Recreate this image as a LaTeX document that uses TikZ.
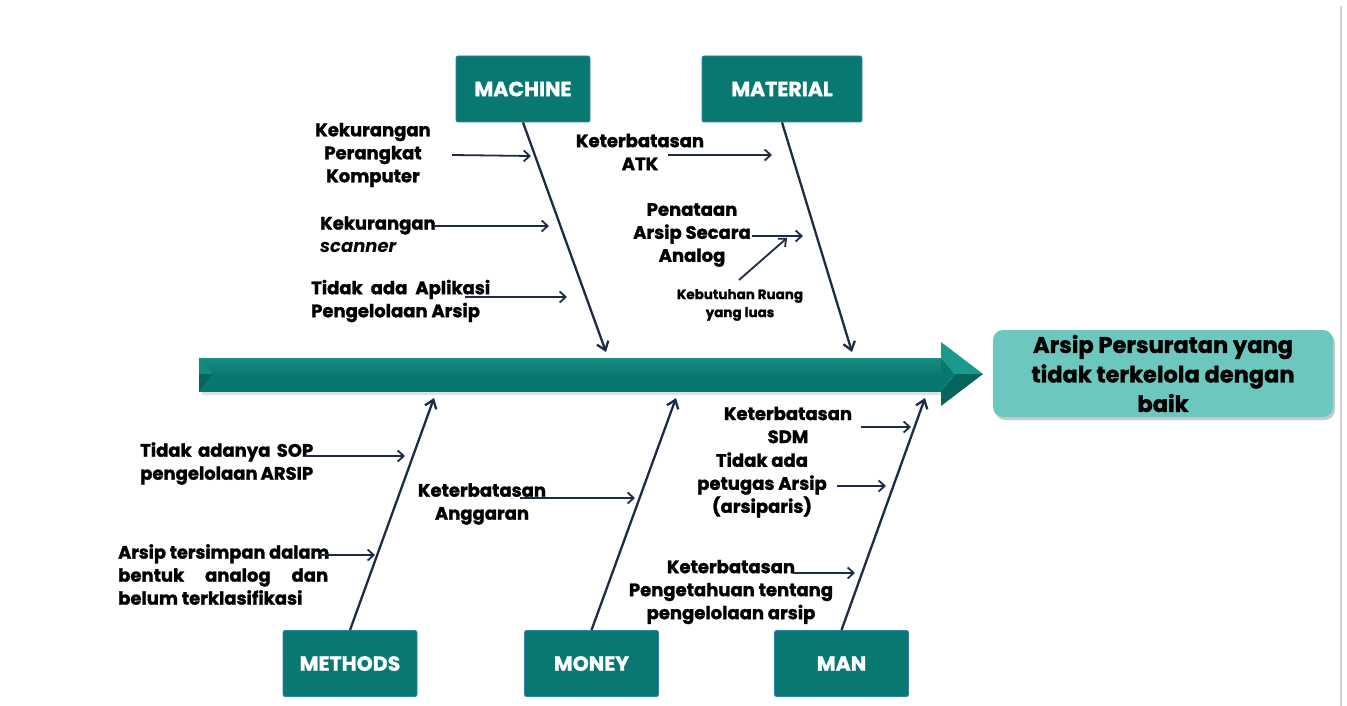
\documentclass[tikz,border=0pt]{standalone}
\usepackage{fontspec}
\setmainfont{Poppins}[BoldFeatures={FakeBold=1.4}]
\usetikzlibrary{arrows.meta,shadows}

\definecolor{boxteal}{HTML}{087870}
\definecolor{boxedge}{HTML}{2C86B0}
\definecolor{bone}{HTML}{1E2B47}
\definecolor{effectfill}{HTML}{6CC8BF}
\definecolor{spinelight}{HTML}{4CC6BA}
\definecolor{spinemid}{HTML}{14897F}
\definecolor{spinedark}{HTML}{077870}
\definecolor{facetdark}{HTML}{05665F}
\definecolor{facetlight}{HTML}{1A9A8F}

\pgfdeclareverticalshading{spinebody}{100bp}{%
  color(0bp)=(spinedark); color(48bp)=(spinedark);
  color(72bp)=(spinemid); color(100bp)=(spinelight)}

\begin{document}
\begin{tikzpicture}[x=1pt,y=-1pt,
  catbox/.style={draw=boxedge, line width=0.8pt, fill=boxteal, rounded corners=2pt,
    minimum width=134pt, minimum height=66pt, inner sep=0pt, text=white,
    font=\bfseries\fontsize{20.5}{24}\selectfont},
  cause/.style={inner sep=0pt, align=center, text=black,
    font=\bfseries\fontsize{18}{23}\selectfont},
  smallcause/.style={inner sep=0pt, align=center, text=black,
    font=\bfseries\fontsize{13.5}{18}\selectfont},
  bonearrow/.style={draw=bone, line width=2.3pt,
    -{Straight Barb[length=8pt,width=12pt,line width=2.3pt]}},
  subarrow/.style={draw=bone, line width=1.8pt,
    -{Straight Barb[length=6pt,width=11pt,line width=1.8pt]}},
  effectbox/.style={fill=effectfill, rounded corners=10pt, minimum width=340pt,
    minimum height=87pt, inner sep=0pt, align=center, text=black,
    font=\bfseries\fontsize{22.5}{29.5}\selectfont,
    drop shadow={shadow xshift=2pt, shadow yshift=-3pt, opacity=0.35, fill=black!60}}
]
\useasboundingbox (0,0) rectangle (1347,706);
\fill[white] (0,0) rectangle (1347,706);

% page edge on the right
\draw[black!18, line width=2.2pt] (1341,6) -- (1341,706);

% ---- spine arrow ----
\fill[black!12] (202,391) rectangle (942,395);
\shade[shading=spinebody] (199,358) rectangle (941,391);
% bevelled tail
\fill[spinemid] (199,358) -- (213,374) -- (199,374) -- cycle;
\fill[facetdark] (199,374) -- (213,374) -- (199,391) -- cycle;
% head
\fill[facetlight] (941,342) -- (983,374) -- (955,374) -- (941,358) -- cycle;
\fill[facetdark] (941,406) -- (983,374) -- (955,374) -- (941,391) -- cycle;
\fill[spinedark] (941,358) -- (955,374) -- (941,391) -- cycle;
\coordinate (spineTip) at (983,374);

% ---- effect ----
\node[effectbox] (effect) at (1163,373.5)
  {Arsip Persuratan yang\\tidak terkelola dengan\\baik};

% ---- categories ----
\node[catbox] (machine)  at (523,89)  {MACHINE};
\node[catbox, minimum width=160pt] (material) at (782,89) {MATERIAL};
\node[catbox] (methods)  at (350,663.5) {METHODS};
\node[catbox] (money)    at (591.5,663.5) {MONEY};
\node[catbox] (man)      at (841.5,663.5) {MAN};

% points where the bones meet the spine
\coordinate (jMachine)  at (606,352);
\coordinate (jMaterial) at (852,352);
\coordinate (jMethods)  at (434,398);
\coordinate (jMoney)    at (676,398);
\coordinate (jMan)      at (925,398);

\draw[bonearrow] (machine.south)  -- (jMachine);
\draw[bonearrow] (material.south) -- (jMaterial);
\draw[bonearrow] (methods.north)  -- (jMethods);
\draw[bonearrow] (money.north)    -- (jMoney);
\draw[bonearrow] (man.north)      -- (jMan);

% ---- causes: machine ----
\node[cause] (c1) at (373,155) {Kekurangan\\Perangkat\\Komputer};
\coordinate (c1a) at (452,155); \coordinate (c1b) at (531,156);
\draw[subarrow] (c1a) -- (c1b);

\node[cause, align=left, anchor=west] (c2) at (320,234.5)
  {Kekurangan\\{\itshape scanner}};
\coordinate (c2a) at (435,226); \coordinate (c2b) at (549,226);
\draw[subarrow] (c2a) -- (c2b);

\node[cause, align=left, anchor=west] (c3) at (311,301)
  {\makebox[179pt][s]{Tidak ada Aplikasi}\\Pengelolaan Arsip};
\coordinate (c3a) at (465,297); \coordinate (c3b) at (567,297);
\draw[subarrow] (c3a) -- (c3b);

% ---- causes: material ----
\node[cause] (c4) at (640,152) {Keterbatasan\\ATK};
\coordinate (c4a) at (668,155); \coordinate (c4b) at (772,155);
\draw[subarrow] (c4a) -- (c4b);

\node[cause] (c5) at (692,235) {Penataan\\Arsip Secara\\Analog};
\coordinate (c5a) at (752,236); \coordinate (c5b) at (803,236);
\draw[subarrow] (c5a) -- (c5b);

\node[smallcause] (c6) at (740,305) {Kebutuhan Ruang\\yang luas};
\coordinate (c6a) at (739,280); \coordinate (c6b) at (787,238);
\draw[subarrow] (c6a) -- (c6b);

% ---- causes: methods ----
\node[cause, align=left, anchor=west] (c7) at (140,463.5)
  {\makebox[173pt][s]{Tidak adanya SOP}\\\makebox[173pt][s]{pengelolaan ARSIP}};
\coordinate (c7a) at (305,456); \coordinate (c7b) at (405,456);
\draw[subarrow] (c7a) -- (c7b);

\node[cause, align=left, anchor=west] (c8) at (118,574.5)
  {\scalebox{0.985}[1]{Arsip tersimpan dalam}\\\makebox[210pt][s]{bentuk analog dan}\\belum terklasifikasi};
\coordinate (c8a) at (320,555); \coordinate (c8b) at (375,555);
\draw[subarrow] (c8a) -- (c8b);

% ---- causes: money ----
\node[cause] (c9) at (482,504) {Keterbatasan\\Anggaran};
\coordinate (c9a) at (520,498); \coordinate (c9b) at (635,498);
\draw[subarrow] (c9a) -- (c9b);

% ---- causes: man ----
\node[cause] (c10) at (788,425) {Keterbatasan\\SDM};
\coordinate (c10a) at (861,427); \coordinate (c10b) at (911,427);
\draw[subarrow] (c10a) -- (c10b);

\node[cause] (c11) at (762,485) {Tidak ada\\petugas Arsip\\(arsiparis)};
\coordinate (c11a) at (837,486); \coordinate (c11b) at (886,486);
\draw[subarrow] (c11a) -- (c11b);

\node[cause] (c12) at (731,592) {Keterbatasan\\Pengetahuan tentang\\pengelolaan arsip};
\coordinate (c12a) at (793,573); \coordinate (c12b) at (855,573);
\draw[subarrow] (c12a) -- (c12b);
\end{tikzpicture}
\end{document}
